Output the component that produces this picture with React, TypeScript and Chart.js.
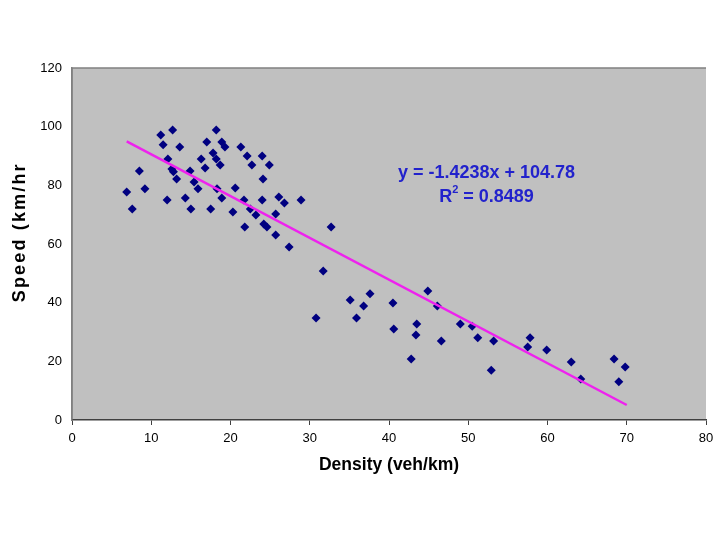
import { useEffect, useRef } from 'react'
import { Chart, registerables } from 'chart.js'

Chart.register(...registerables)

// density (veh/km) and speed (km/hr)
const density = [
  6.9, 7.6, 8.5, 9.2, 11.2, 11.5, 12.0, 12.1, 12.7, 12.6, 12.8, 13.2, 13.6, 14.3, 14.9, 15.0,
  15.4, 15.9, 16.3, 16.8, 17.0, 17.5, 17.8, 18.2, 18.2, 18.3, 18.7, 18.9, 18.9, 19.3, 20.3,
  20.6, 21.3, 21.7, 21.8, 22.1, 22.5, 22.7, 23.2, 24.0, 24.0, 24.1, 24.2, 24.6, 24.9, 25.7,
  25.7, 26.1, 26.8, 27.4, 28.9, 30.8, 31.7, 32.7, 35.1, 35.9, 36.8, 37.6, 40.5, 40.6, 42.8,
  43.4, 43.5, 44.9, 46.1, 46.6, 49.0, 50.5, 51.2, 52.9, 53.2, 57.5, 57.8, 59.9, 63.0, 64.2,
  68.4, 69.0, 69.8
]
const speed = [
  77.7, 71.9, 84.9, 78.8, 97.2, 93.8, 75.0, 89.0, 98.9, 85.6, 84.6, 82.2, 93.1, 75.7, 84.9, 71.9,
  81.1, 78.8, 89.0, 85.9, 94.8, 71.9, 91.0, 98.9, 89.0, 78.8, 86.9, 94.8, 75.7, 93.1, 70.9,
  79.1, 93.1, 75.0, 65.8, 90.0, 71.9, 86.9, 69.9, 90.0, 75.0, 82.2, 66.8, 65.8, 86.9, 70.2,
  63.1, 76.0, 74.0, 59.0, 75.0, 34.8, 50.8, 65.8, 40.9, 34.8, 38.9, 43.0, 39.9, 31.0, 20.8,
  29.0, 32.7, 44.0, 38.9, 26.9, 32.7, 32.0, 28.0, 17.0, 26.9, 24.9, 28.0, 23.9, 19.8, 14.0,
  20.8, 13.0, 18.1
]

// linear trendline as printed on the chart
const slope = -1.4238
const intercept = 104.78
const r2 = 0.8489
const trendFrom = 6.9
const trendTo = 70

const yTitle = 'Speed (km/hr'

const FONT = 'Arial, "Liberation Sans", sans-serif'

const plotBackground = {
  id: 'plotBackground',
  beforeDraw(chart: Chart) {
    const { ctx, chartArea } = chart
    ctx.save()
    ctx.fillStyle = '#c0c0c0'
    ctx.fillRect(chartArea.left, chartArea.top, chartArea.right - chartArea.left, chartArea.bottom - chartArea.top)
    ctx.strokeStyle = '#808080'
    ctx.lineWidth = 1.5
    ctx.beginPath()
    ctx.moveTo(chartArea.left, chartArea.bottom)
    ctx.lineTo(chartArea.left, chartArea.top)
    ctx.lineTo(chartArea.right, chartArea.top)
    ctx.stroke()
    ctx.restore()
  }
}

// the y title in the original is wide-set and sits a bit above the axis middle
const yAxisTitle = {
  id: 'yAxisTitle',
  afterDraw(chart: Chart) {
    const { ctx, scales } = chart
    const cy = scales.y.getPixelForValue(64)
    ctx.save()
    ctx.translate(20, cy)
    ctx.rotate(-Math.PI / 2)
    ctx.font = `bold 18px ${FONT}`
    const w0 = ctx.measureText(yTitle).width
    ;(ctx as any).letterSpacing = `${Math.max(0, (140 - w0) / yTitle.length)}px`
    ctx.fillStyle = '#000'
    ctx.textAlign = 'center'
    ctx.textBaseline = 'middle'
    ctx.fillText(yTitle, 0, 0)
    ctx.restore()
  }
}

const equationLabel = {
  id: 'equationLabel',
  afterDatasetsDraw(chart: Chart) {
    const { ctx, scales } = chart
    const cx = scales.x.getPixelForValue(52.3)
    const y1 = scales.y.getPixelForValue(84.3)
    const y2 = scales.y.getPixelForValue(76.1)
    ctx.save()
    ctx.fillStyle = '#2222cc'
    ctx.textBaseline = 'middle'
    ctx.textAlign = 'center'
    ctx.font = `bold 18px ${FONT}`
    ctx.fillText(`y = ${slope}x + ${intercept}`, cx, y1)
    const rest = ` = ${r2}`
    const wR = ctx.measureText('R').width
    const wRest = ctx.measureText(rest).width
    ctx.font = `bold 11px ${FONT}`
    const wSup = ctx.measureText('2').width
    const start = cx - (wR + wSup + wRest) / 2
    ctx.textAlign = 'left'
    ctx.font = `bold 18px ${FONT}`
    ctx.fillText('R', start, y2)
    ctx.fillText(rest, start + wR + wSup, y2)
    ctx.font = `bold 11px ${FONT}`
    ctx.fillText('2', start + wR, y2 - 7)
    ctx.restore()
  }
}

export default function App() {
  const canvasRef = useRef<HTMLCanvasElement>(null)

  useEffect(() => {
    document.body.style.margin = '0'
    if (!canvasRef.current) return
    const chart = new Chart(canvasRef.current, {
      type: 'scatter',
      data: {
        datasets: [
          {
            label: 'Observed',
            data: density.map((d, i) => ({ x: d, y: speed[i] })),
            pointStyle: 'rectRot',
            pointRadius: 4.5,
            backgroundColor: '#000080',
            borderColor: '#000080',
            borderWidth: 0,
            order: 2
          },
          {
            label: 'Trend',
            type: 'line',
            data: [
              { x: trendFrom, y: slope * trendFrom + intercept },
              { x: trendTo, y: slope * trendTo + intercept }
            ],
            borderColor: '#ee22ee',
            borderWidth: 2.5,
            pointRadius: 0,
            fill: false,
            order: 1
          }
        ]
      },
      options: {
        animation: false,
        responsive: true,
        maintainAspectRatio: false,
        layout: { padding: { top: 68, right: 14, bottom: 60, left: 6 } },
        plugins: {
          legend: { display: false },
          tooltip: { enabled: false }
        },
        scales: {
          x: {
            type: 'linear',
            min: 0,
            max: 80,
            afterFit: (scale: any) => {
              scale.height = 60
            },
            ticks: {
              stepSize: 10,
              color: '#000',
              padding: 6,
              font: { family: FONT, size: 13 }
            },
            grid: {
              drawOnChartArea: false,
              drawTicks: true,
              tickLength: 5,
              color: '#404040'
            },
            border: { color: '#404040', width: 1.5 },
            title: {
              display: true,
              text: 'Density (veh/km)',
              color: '#000',
              font: { family: FONT, size: 17.5, weight: 'bold' }
            }
          },
          y: {
            type: 'linear',
            min: 0,
            max: 120,
            afterFit: (scale: any) => {
              scale.width = 66
            },
            ticks: {
              stepSize: 20,
              color: '#000',
              padding: 10,
              font: { family: FONT, size: 13 }
            },
            grid: { drawOnChartArea: false, drawTicks: false },
            border: { color: '#808080', width: 1.5 },
            title: { display: false }
          }
        }
      },
      plugins: [plotBackground, equationLabel, yAxisTitle]
    })
    return () => {
      chart.destroy()
    }
  }, [])

  return (
    <div style={{ position: 'fixed', left: 0, top: 0, width: 720, height: 540, background: '#fff' }}>
      <canvas ref={canvasRef} />
    </div>
  )
}
